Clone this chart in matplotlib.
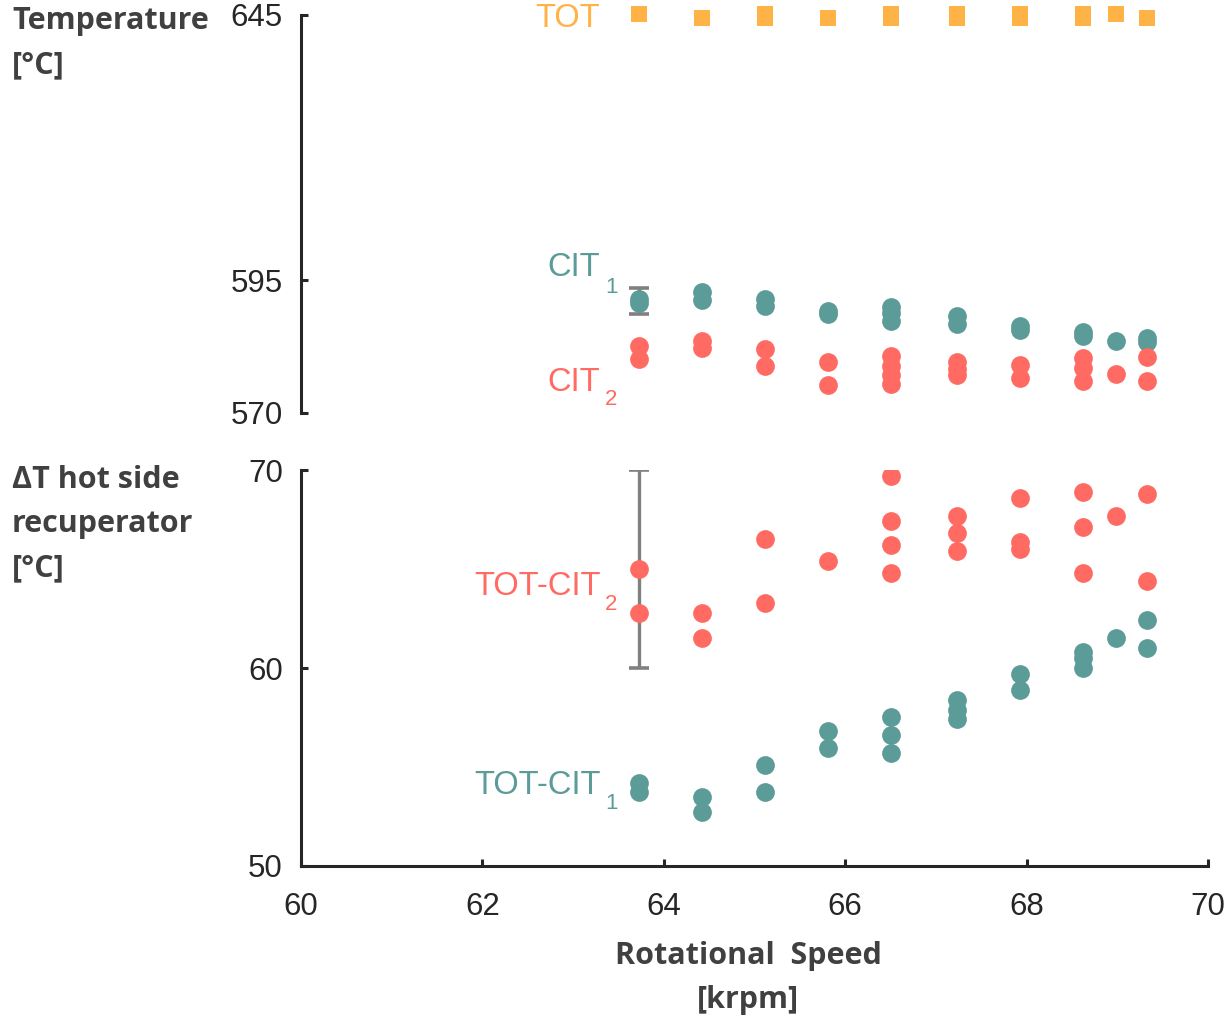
import matplotlib
matplotlib.use("Agg")
import matplotlib.pyplot as plt

# ── data ──────────────────────────────────────────────────
tot_x = [63.73, 64.42, 65.12, 65.12, 65.81, 66.50, 66.50, 67.23, 67.23,
         67.93, 67.93, 68.62, 68.62, 68.99, 69.33]
tot_y = [645.1, 644.5, 645.1, 644.5, 644.5, 645.1, 644.5, 645.1, 644.5,
         645.1, 644.5, 645.1, 644.5, 645.1, 644.5]

cit1_x = [63.73, 63.73, 64.42, 64.42, 65.12, 65.12, 65.81, 65.81,
          66.50, 66.50, 66.50, 67.23, 67.23, 67.93, 67.93,
          68.62, 68.62, 68.99, 69.33, 69.33]
cit1_y = [591.4, 590.8, 592.8, 591.3, 591.5, 590.2, 589.3, 588.6,
          590.0, 588.9, 587.4, 588.3, 586.8, 586.4, 585.7,
          585.3, 584.5, 583.6, 584.2, 583.4]

cit2_x = [63.73, 63.73, 64.42, 64.42, 65.12, 65.12, 65.81, 65.81,
          66.50, 66.50, 66.50, 66.50, 67.23, 67.23, 67.23, 67.93, 67.93,
          68.62, 68.62, 68.62, 68.99, 69.33, 69.33]
cit2_y = [582.7, 580.2, 583.6, 582.3, 582.1, 578.9, 579.7, 575.2,
          580.8, 578.9, 577.2, 575.5, 579.6, 578.3, 577.2, 579.1, 576.6,
          580.4, 578.5, 576.1, 577.4, 580.6, 576.1]

dt2_x = [63.73, 63.73, 64.42, 64.42, 65.12, 65.12, 65.81,
         66.50, 66.50, 66.50, 66.50, 67.23, 67.23, 67.23,
         67.93, 67.93, 67.93, 68.62, 68.62, 68.62, 68.99, 69.33, 69.33]
dt2_y = [65.0, 62.8, 62.8, 61.5, 66.5, 63.3, 65.4,
         69.7, 67.4, 66.2, 64.8, 67.7, 66.8, 65.9,
         68.6, 66.35, 66.0, 68.9, 67.1, 64.8, 67.7, 68.8, 64.4]

dt1_x = [63.73, 63.73, 64.42, 64.42, 65.12, 65.12, 65.81, 65.81,
         66.50, 66.50, 66.50, 67.23, 67.23, 67.23, 67.93, 67.93,
         68.62, 68.62, 68.62, 68.99, 69.33, 69.33]
dt1_y = [54.2, 53.75, 53.5, 52.75, 55.1, 53.75, 56.8, 55.95,
         57.55, 56.6, 55.7, 58.4, 57.9, 57.4, 59.7, 58.9,
         60.8, 60.5, 60.0, 61.5, 62.4, 61.0]

# error bars (x, centre, half-width)
err_top = (63.73, 591.15, 2.45)
err_bot = (63.73, 65.0, 5.0)

C_TEAL   = "#5b9b98"
C_RED    = "#ff6b63"
C_ORANGE = "#ffb347"
C_GRAY   = "#808080"
C_AX     = "#262626"
C_LBL    = "#404040"

plt.rcParams["font.family"] = ["Liberation Sans", "DejaVu Sans"]

fig = plt.figure(figsize=(12.24, 10.16), dpi=100)
W, H = 1224, 1016
ax_t = fig.add_axes([301/W, 1-413/H, 907/W, 398/H])
ax_b = fig.add_axes([301/W, 1-866/H, 907/W, 396/H])

MS = 13.5
FS_ANN = 23.5
FS_SUB = 16

# ── top panel: temperatures ───────────────────────────────
ax_t.errorbar(err_top[0], err_top[1], yerr=err_top[2], fmt="none",
              ecolor=C_GRAY, elinewidth=2.4, capsize=7, capthick=2.6, zorder=1)
ax_t.plot(cit1_x, cit1_y, "o", color=C_TEAL, ms=MS, mew=0, zorder=2)
ax_t.plot(cit2_x, cit2_y, "o", color=C_RED, ms=MS, mew=0, zorder=3)
ax_t.plot(tot_x, tot_y, "s", color=C_ORANGE, ms=11, mew=0, zorder=3,
          clip_on=False)

ax_t.set_xlim(60, 70)
ax_t.set_ylim(570, 645)
ax_t.set_yticks([570, 595, 645])
ax_t.set_xticks([])
for s in ["top", "right", "bottom"]:
    ax_t.spines[s].set_visible(False)

ax_t.text(63.30, 644.4, "TOT", color=C_ORANGE, fontsize=FS_ANN, ha="right", va="center")
ax_t.text(63.30, 597.4, "CIT", color=C_TEAL, fontsize=FS_ANN, ha="right", va="center")
ax_t.text(63.42, 593.6, "1", color=C_TEAL, fontsize=FS_SUB, ha="center", va="center")
ax_t.text(63.30, 575.7, "CIT", color=C_RED, fontsize=FS_ANN, ha="right", va="center")
ax_t.text(63.42, 572.5, "2", color=C_RED, fontsize=FS_SUB, ha="center", va="center")

# ── bottom panel: delta T ─────────────────────────────────
ax_b.errorbar(err_bot[0], err_bot[1], yerr=err_bot[2], fmt="none",
              ecolor=C_GRAY, elinewidth=2.4, capsize=7, capthick=2.6, zorder=1)
ax_b.plot(dt2_x, dt2_y, "o", color=C_RED, ms=MS, mew=0, zorder=2)
ax_b.plot(dt1_x, dt1_y, "o", color=C_TEAL, ms=MS, mew=0, zorder=2)

ax_b.set_xlim(60, 70)
ax_b.set_ylim(50, 70)
ax_b.set_yticks([50, 60, 70])
ax_b.set_xticks([60, 62, 64, 66, 68, 70])
for s in ["top", "right"]:
    ax_b.spines[s].set_visible(False)

ax_b.text(63.30, 64.14, "TOT-CIT", color=C_RED, fontsize=FS_ANN, ha="right", va="center")
ax_b.text(63.42, 63.23, "2", color=C_RED, fontsize=FS_SUB, ha="center", va="center")
ax_b.text(63.30, 54.09, "TOT-CIT", color=C_TEAL, fontsize=FS_ANN, ha="right", va="center")
ax_b.text(63.42, 53.18, "1", color=C_TEAL, fontsize=FS_SUB, ha="center", va="center")

for ax in (ax_t, ax_b):
    ax.set_facecolor("none")
    for s in ["left", "bottom"]:
        ax.spines[s].set_linewidth(2.2)
        ax.spines[s].set_color(C_AX)
    ax.tick_params(direction="in", length=5, width=2.2, color=C_AX,
                   labelsize=22.5, labelcolor=C_AX)
    ax.tick_params(axis="y", pad=13)
    ax.tick_params(axis="x", pad=19)

# ── axis titles ───────────────────────────────────────────
lbl = dict(fontsize=22, fontweight="bold", color=C_LBL,
           family=["Open Sans", "DejaVu Sans"], linespacing=1.62)
fig.text(12/W, 1-6/H, "Temperature\n[°C]", ha="left", va="top", **lbl)
fig.text(12/W, 1-465/H, "ΔT hot side\nrecuperator\n[°C]", ha="left", va="top", **lbl)
fig.text(748/W, 1-941/H, "Rotational  Speed\n[krpm]", ha="center", va="top",
         multialignment="center", **lbl)

plt.savefig("out.png", dpi=100)
